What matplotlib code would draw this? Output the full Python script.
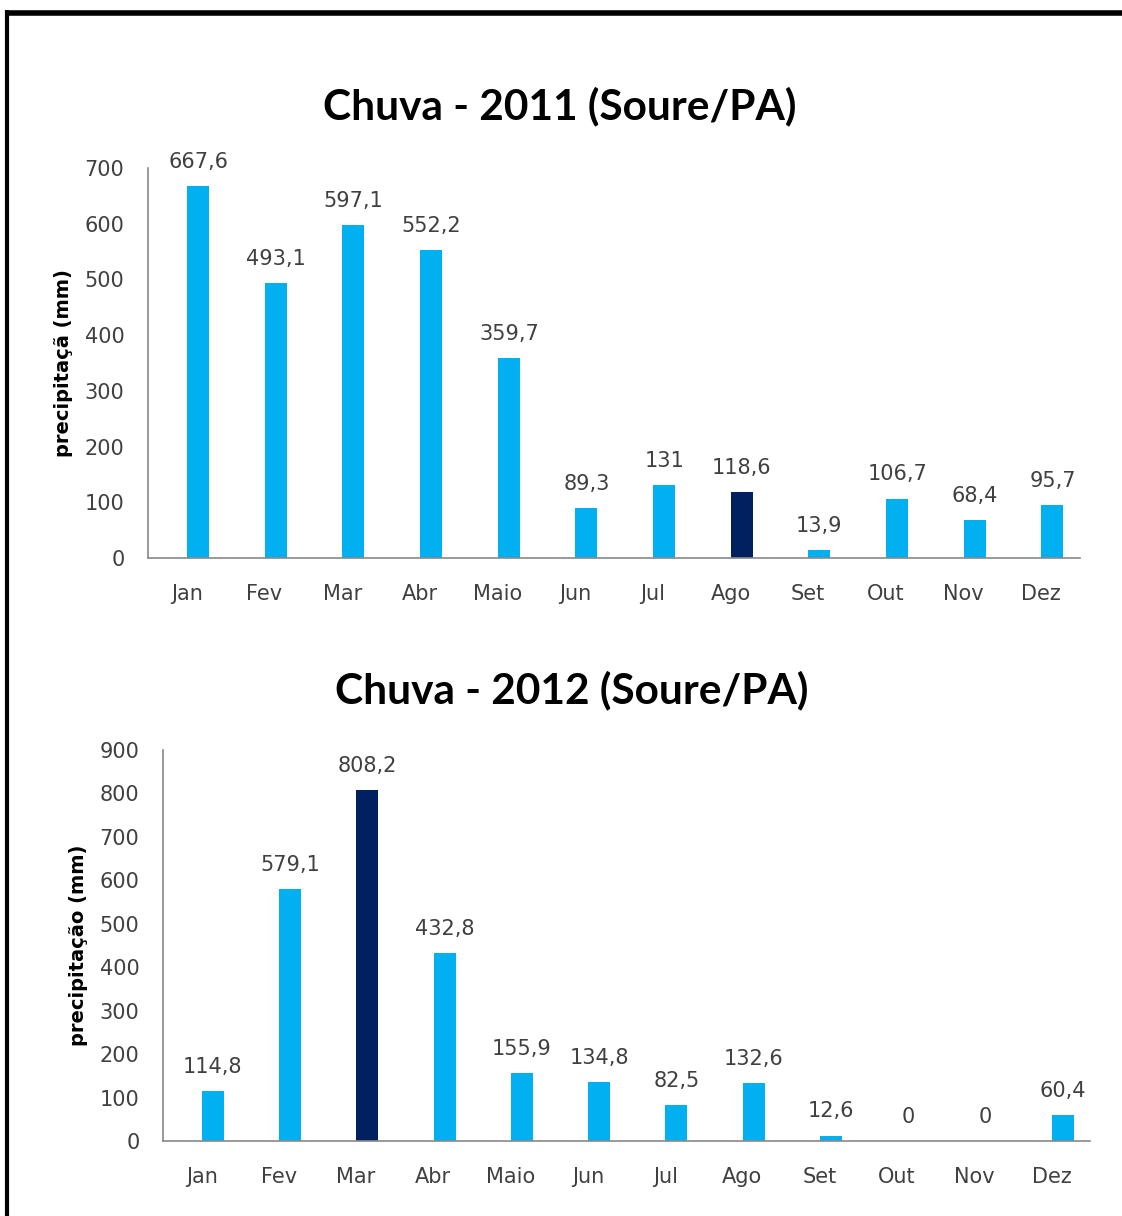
import matplotlib
matplotlib.use("Agg")
import matplotlib.pyplot as plt
from matplotlib.lines import Line2D

months = ["Jan", "Fev", "Mar", "Abr", "Maio", "Jun", "Jul", "Ago", "Set", "Out", "Nov", "Dez"]
rain_2011 = [667.6, 493.1, 597.1, 552.2, 359.7, 89.3, 131, 118.6, 13.9, 106.7, 68.4, 95.7]
rain_2012 = [114.8, 579.1, 808.2, 432.8, 155.9, 134.8, 82.5, 132.6, 12.6, 0, 0, 60.4]
highlight_2011 = "Ago"
highlight_2012 = "Mar"

LIGHT = "#00B0F0"
DARK = "#002060"
TXT = "#404040"
BODY_FONT = ["DejaVu Sans"]
TITLE_FONT = ["Lato", "DejaVu Sans"]

plt.rcParams["font.family"] = BODY_FONT

W, H = 1122, 1216
fig = plt.figure(figsize=(W / 100, H / 100), dpi=100)


def fmt(v):
    s = f"{v:.1f}".replace(".", ",")
    if s.endswith(",0"):
        s = s[:-2]
    return s


def draw(ax, values, highlight, ymax, ystep, title, ylabel, title_xy):
    x = list(range(len(months)))
    colors = [DARK if m == highlight else LIGHT for m in months]
    bar_x = [xi + 0.145 for xi in x]
    ax.bar(bar_x, values, width=0.285, color=colors, zorder=2)
    ax.set_xlim(-0.5, len(months) - 0.5)
    ax.set_ylim(0, ymax)
    ax.set_yticks(range(0, ymax + 1, ystep))
    ax.set_xticks(x)
    ax.set_xticklabels(months)
    ax.tick_params(axis="both", length=0, labelsize=15, colors=TXT)
    ax.tick_params(axis="x", pad=19)
    ax.tick_params(axis="y", pad=17)
    for side in ("top", "right"):
        ax.spines[side].set_visible(False)
    for side in ("left", "bottom"):
        ax.spines[side].set_color("#898989")
        ax.spines[side].set_linewidth(1.2)
    for bx, v in zip(bar_x, values):
        ax.annotate(fmt(v), (bx, v), xytext=(0, 13), textcoords="offset points",
                    ha="center", va="baseline", fontsize=15, color=TXT)
    ax.set_ylabel(ylabel, fontsize=14, fontweight="bold", color="black", labelpad=8)
    fig.text(title_xy[0] / W, 1 - title_xy[1] / H, title, family=TITLE_FONT,
             ha="center", va="center", fontsize=30.5, fontweight="bold", color="black")


ax1 = fig.add_axes([148 / W, 1 - 558 / H, (1080 - 148) / W, (558 - 168) / H])
draw(ax1, rain_2011, highlight_2011, 700, 100, "Chuva - 2011 (Soure/PA)",
     "precipitaçã (mm)", (560, 106))

ax2 = fig.add_axes([163 / W, 1 - 1141 / H, (1090 - 163) / W, (1141 - 750) / H])
draw(ax2, rain_2012, highlight_2012, 900, 100, "Chuva - 2012 (Soure/PA)",
     "precipitação (mm)", (572, 690))

# outer frame (top and left edges visible)
fig.add_artist(Line2D([5 / W, 1.0], [1 - 12.5 / H] * 2, color="black", lw=4,
                      transform=fig.transFigure, solid_capstyle="butt"))
fig.add_artist(Line2D([6.5 / W] * 2, [1 - 10 / H, 0.0], color="black", lw=3,
                      transform=fig.transFigure, solid_capstyle="butt"))

fig.savefig("out.png", dpi=100, facecolor="white")
